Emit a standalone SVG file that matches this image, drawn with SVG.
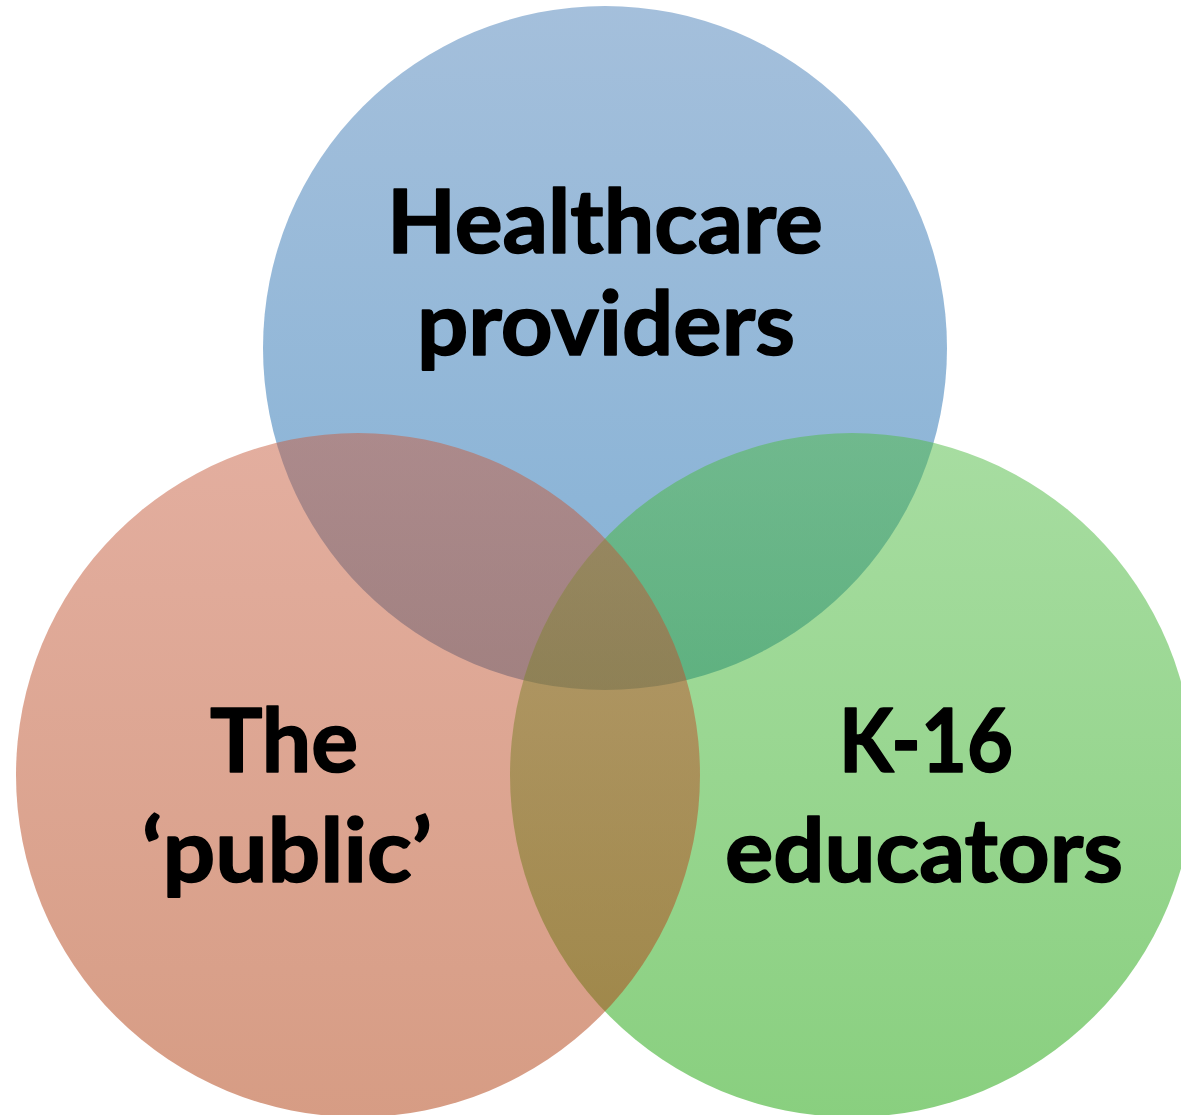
<svg xmlns="http://www.w3.org/2000/svg" width="1181" height="1115" viewBox="0 0 1181 1115">
<style>
.c{fill-opacity:0.5}
.t{font-family:Lato,"Open Sans","Liberation Sans",sans-serif;font-weight:bold;font-size:88px;fill:#000;stroke:#000;stroke-width:1.6;stroke-linejoin:round;text-anchor:middle}
</style>
<defs>
<linearGradient id="gb" x1="0" y1="0" x2="0" y2="1">
<stop offset="0" stop-color="#4a80b8"/>
<stop offset="1" stop-color="#0a64ac"/>
</linearGradient>
<linearGradient id="gg" x1="0" y1="0" x2="0" y2="1">
<stop offset="0" stop-color="#50bb44"/>
<stop offset="1" stop-color="#14a000"/>
</linearGradient>
<linearGradient id="gr" x1="0" y1="0" x2="0" y2="1">
<stop offset="0" stop-color="#c75e40"/>
<stop offset="1" stop-color="#ae3a0a"/>
</linearGradient>
</defs>
<rect width="1181" height="1115" fill="#fff"/>
<g id="healthcare">
<circle class="c" cx="605" cy="348" r="342" fill="url(#gb)"/>
</g>
<g id="educators">
<circle class="c" cx="852" cy="775" r="342" fill="url(#gg)"/>
</g>
<g id="public">
<circle class="c" cx="358" cy="775" r="342" fill="url(#gr)"/>
</g>
<g id="connectors"/>
<g id="labels">
<text class="t" x="605" y="253" textLength="436" lengthAdjust="spacingAndGlyphs">Healthcare</text>
<text class="t" x="606" y="355" textLength="378" lengthAdjust="spacingAndGlyphs">providers</text>
<text class="t" x="284" y="772" textLength="148" lengthAdjust="spacingAndGlyphs">The</text>
<text class="t" x="287" y="882" textLength="290" lengthAdjust="spacingAndGlyphs">‘public’</text>
<text class="t" x="926" y="772" textLength="174" lengthAdjust="spacingAndGlyphs">K-16</text>
<text class="t" x="924" y="882" textLength="398" lengthAdjust="spacingAndGlyphs">educators</text>
</g>
</svg>
